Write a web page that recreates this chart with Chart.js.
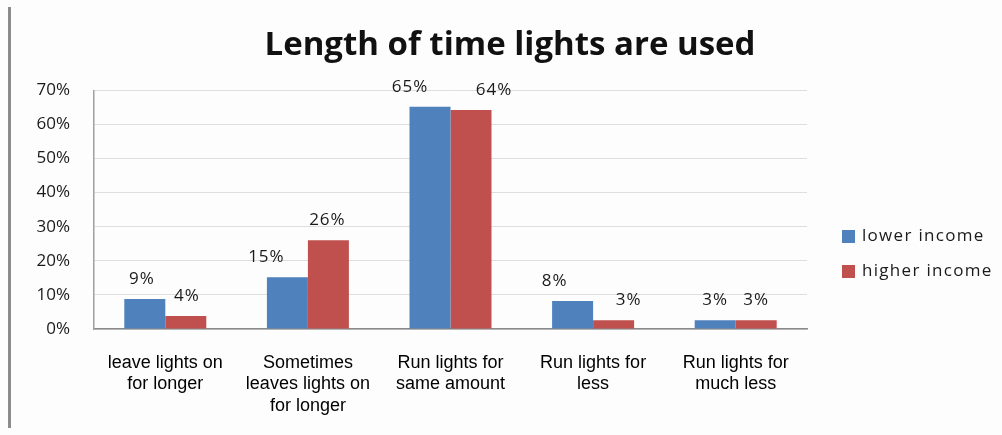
<!DOCTYPE html>
<html>
<head>
<meta charset="utf-8">
<script src="https://cdn.jsdelivr.net/npm/chart.js@4.4.1/dist/chart.umd.min.js"></script>
<style>
  html, body { margin: 0; padding: 0; background: #fdfdfd; }
  #wrap { position: relative; width: 1002px; height: 435px; }
  #edge { position: absolute; left: 8px; top: 7px; width: 3px; height: 421px; background: #8c8c8c; }
  canvas { position: absolute; left: 0; top: 0; }
</style>
</head>
<body>
<div id="wrap">
  <canvas id="chart" width="1002" height="435"></canvas>
  <div id="edge"></div>
</div>
<script>
// data
const categories = [
    ['leave lights on', 'for longer'],
    ['Sometimes', 'leaves lights on', 'for longer'],
    ['Run lights for', 'same amount'],
    ['Run lights for', 'less'],
    ['Run lights for', 'much less']
];
const lowerIncome = [8.8, 15.2, 65.2, 8.2, 2.6];
const higherIncome = [3.8, 26.0, 64.2, 2.6, 2.6];
const seriesNames = ['lower income', 'higher income'];
const yTicks = [0, 10, 20, 30, 40, 50, 60, 70];

const colors = ['#4f81bd', '#c0504d'];
const labelFont = '17px "Open Sans"';

// value labels above bars (small sideways nudges like the original)
const valueLabels = {
    id: 'valueLabels',
    afterDatasetsDraw(chart, args, opts) {
        const ctx = chart.ctx;
        ctx.save();
        ctx.font = labelFont;
        ctx.letterSpacing = '1px';
        ctx.fillStyle = '#1a1a1a';
        ctx.textAlign = 'center';
        ctx.textBaseline = 'middle';
        chart.data.datasets.forEach((ds, di) => {
            chart.getDatasetMeta(di).data.forEach((bar, i) => {
                const dx = (opts.nudge[di] || [])[i] || 0;
                ctx.fillText(Math.round(ds.data[i]) + '%', bar.x + dx, bar.y - 20);
            });
        });
        ctx.restore();
    }
};

// legend drawn in the reserved right strip
const sideLegend = {
    id: 'sideLegend',
    afterDraw(chart) {
        const ctx = chart.ctx;
        const x = chart.chartArea.right + 35;
        ctx.save();
        ctx.font = labelFont;
        ctx.letterSpacing = '1.3px';
        ctx.textBaseline = 'middle';
        chart.data.datasets.forEach((ds, i) => {
            const y = 236 + i * 35;
            ctx.fillStyle = ds.backgroundColor;
            ctx.fillRect(x, y - 6, 13, 13);
            ctx.fillStyle = '#1a1a1a';
            ctx.fillText(ds.label, x + 20, y);
        });
        ctx.restore();
    }
};

new Chart(document.getElementById('chart'), {
    type: 'bar',
    data: {
        labels: categories,
        datasets: [
            { label: seriesNames[0], data: lowerIncome, backgroundColor: colors[0] },
            { label: seriesNames[1], data: higherIncome, backgroundColor: colors[1] }
        ]
    },
    options: {
        responsive: false,
        animation: false,
        categoryPercentage: 0.575,
        barPercentage: 1,
        layout: { padding: { left: 18, right: 0, top: 0, bottom: 0 } },
        plugins: {
            legend: { display: false },
            tooltip: { enabled: false },
            title: {
                display: true,
                text: 'Length of time lights are used',
                color: '#111',
                font: { family: 'Open Sans', size: 33, weight: 'bold', lineHeight: 1.1 },
                padding: { top: 27, bottom: 27 }
            },
            valueLabels: {
                nudge: [[-3, -21, -20, -18, 0], [1, -1, 23, 15, 0]]
            }
        },
        scales: {
            x: {
                grid: { display: false },
                border: { color: '#8a8a8a', width: 1.5 },
                ticks: {
                    color: '#000',
                    font: { family: 'Liberation Sans', size: 18, lineHeight: 1.2 },
                    padding: 15,
                    maxRotation: 0,
                    autoSkip: false
                },
                afterFit(scale) { scale.height = 106; }
            },
            y: {
                min: 0,
                max: 70,
                afterBuildTicks(scale) { scale.ticks = yTicks.map(v => ({ value: v })); },
                grid: { color: '#dedede', drawTicks: false },
                border: { color: '#a0a0a0', width: 1.5 },
                ticks: {
                    color: '#1a1a1a',
                    font: { family: 'Open Sans', size: 17 },
                    padding: 24,
                    callback: v => v + '%'
                },
                afterFit(scale) { scale.width = 76; }
            },
            side: {
                position: 'right',
                display: true,
                grid: { display: false },
                border: { display: false },
                ticks: { display: false },
                afterFit(scale) { scale.width = 195; }
            }
        }
    },
    plugins: [valueLabels, sideLegend]
});
</script>
</body>
</html>
